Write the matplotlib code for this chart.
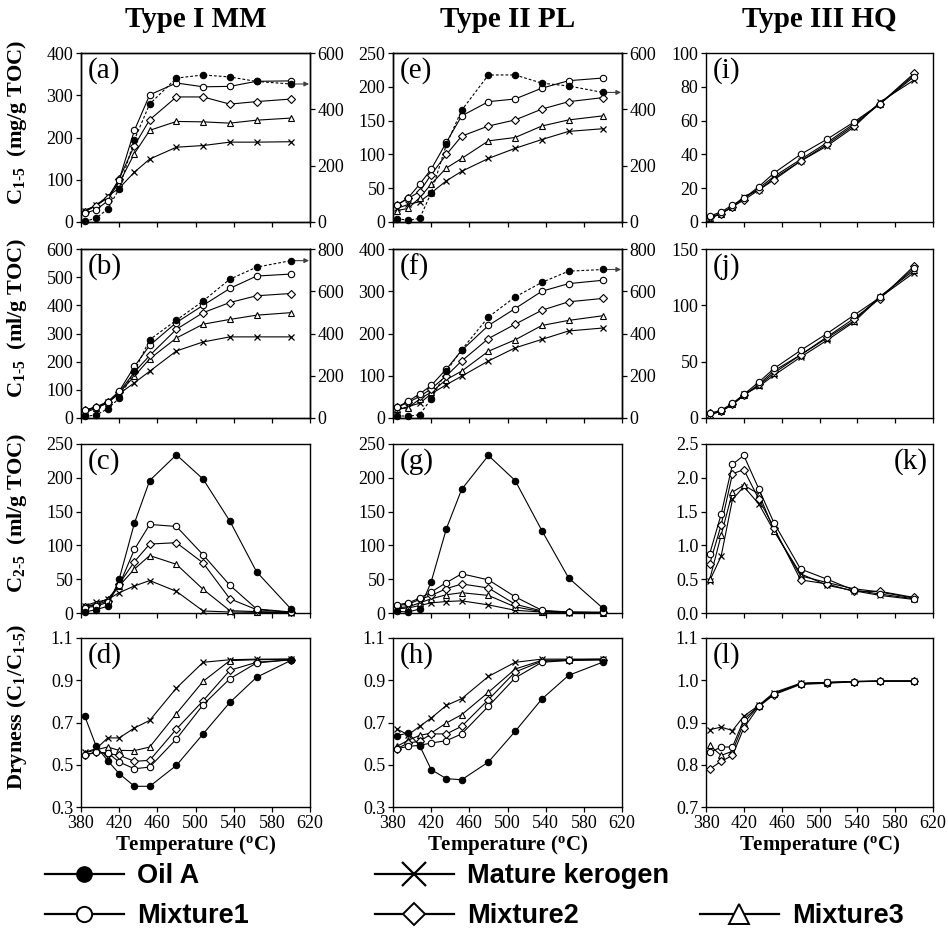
import matplotlib
matplotlib.use("Agg")
import numpy as np
import matplotlib.pyplot as plt
from matplotlib.lines import Line2D
from matplotlib.ticker import FormatStrFormatter

plt.rcParams['font.family'] = ['Liberation Serif', 'DejaVu Serif']
plt.rcParams['mathtext.fontset'] = 'custom'
plt.rcParams['mathtext.rm'] = 'Liberation Serif:bold'
plt.rcParams['mathtext.it'] = 'Liberation Serif:bold'
plt.rcParams['mathtext.bf'] = 'Liberation Serif:bold'

# ---------------- data ----------------
T = [384, 396, 408, 420, 436, 452, 480, 508, 536, 564, 600]
x_ticks = [380, 420, 460, 500, 540, 580, 620]

# Type I MM, C1-5 (mg/g TOC); Oil A on right axis
a_oil = [2, 14, 46, 118, 292, 419, 511, 522, 515, 499, 490]
a_mix1 = [21, 29, 50, 100, 217, 301, 329, 320, 321, 333, 334]
a_mix2 = [24, 39, 57, 102, 181, 242, 296, 296, 279, 285, 291]
a_mix3 = [26, 39, 59, 92, 162, 217, 238, 237, 234, 241, 246]
a_ker = [27, 40, 61, 80, 118, 149, 177, 181, 189, 189, 190]

# Type II PL, C1-5 (mg/g TOC)
e_oil = [12, 6, 13, 103, 276, 397, 522, 522, 493, 483, 460]
e_mix1 = [25, 36, 56, 78, 118, 157, 178, 182, 198, 209, 213]
e_mix2 = [25, 35, 45, 70, 100, 127, 142, 151, 167, 178, 184]
e_mix3 = [17, 20, 36, 56, 80, 94, 120, 125, 142, 151, 157]
e_ker = [20, 26, 30, 43, 61, 75, 94, 109, 122, 134, 138]

# Type III HQ, C1-5 (mg/g TOC)
i_mix1 = [3.5, 6, 10, 14, 21, 29, 40, 49, 59, 70, 86]
i_mix2 = [3, 5, 9, 13, 19, 25, 36, 46, 57, 70, 88]
i_mix3 = [2.5, 5, 9, 14, 20, 27, 37, 47, 58, 70, 87]
i_ker = [2, 5, 9, 15, 19, 26, 36, 45, 56, 71, 84]

# Type I MM, C1-5 (ml/g TOC)
b_oil = [8, 14, 44, 93, 222, 371, 463, 554, 657, 714, 745]
b_mix1 = [28, 40, 58, 95, 183, 258, 339, 400, 460, 504, 511]
b_mix2 = [28, 38, 56, 91, 163, 222, 315, 374, 410, 434, 442]
b_mix3 = [26, 36, 53, 89, 149, 210, 284, 333, 350, 365, 374]
b_ker = [20, 34, 56, 86, 125, 166, 238, 270, 288, 288, 288]

# Type II PL, C1-5 (ml/g TOC)
f_oil = [11, 8, 16, 90, 222, 323, 478, 573, 642, 695, 703]
f_mix1 = [25, 40, 57, 77, 116, 160, 219, 259, 300, 318, 326]
f_mix2 = [25, 37, 51, 69, 100, 135, 188, 222, 255, 275, 283]
f_mix3 = [21, 24, 45, 61, 91, 111, 158, 185, 219, 231, 242]
f_ker = [19, 27, 35, 57, 79, 99, 135, 166, 186, 206, 213]

# Type III HQ, C1-5 (ml/g TOC)
j_mix1 = [4, 7, 13, 21, 32, 44, 60, 75, 91, 107, 133]
j_mix2 = [4, 6, 12, 20, 30, 42, 56, 72, 88, 106, 135]
j_mix3 = [3, 6, 12, 20, 29, 40, 56, 71, 86, 108, 131]
j_ker = [3, 6, 12, 21, 28, 38, 54, 69, 85, 107, 129]

# C2-5 (ml/g TOC)
c_oil = [1.5, 5, 10, 50, 133, 196, 234, 198, 136, 61, 6]
c_mix1 = [8, 10, 16, 41, 94, 131, 128, 86, 41, 6, 1.5]
c_mix2 = [9, 12, 18, 43, 76, 102, 104, 74, 21, 5, 1]
c_mix3 = [10, 13, 21, 40, 65, 85, 72, 35, 3.5, 2, 1]
c_ker = [11, 16, 20, 30, 40, 48, 32, 3, 1.5, 1, 0.5]

g_oil = [2.5, 1.5, 6, 46, 125, 183, 233, 196, 122, 52, 7]
g_mix1 = [12, 15, 22, 31, 45, 58, 49, 24, 4, 1.5, 1]
g_mix2 = [11, 13, 20, 26, 36, 43, 37, 13, 3, 1, 1]
g_mix3 = [8, 9, 15, 21, 27, 30, 26, 9, 2, 1, 0.5]
g_ker = [6, 7.5, 11, 15, 17, 18, 12, 4, 1.5, 0.5, 0.5]

k_mix1 = [0.88, 1.46, 2.20, 2.33, 1.83, 1.33, 0.65, 0.50, 0.34, 0.28, 0.21]
k_mix2 = [0.73, 1.30, 2.06, 2.12, 1.68, 1.26, 0.49, 0.43, 0.32, 0.32, 0.23]
k_mix3 = [0.50, 1.15, 1.79, 1.89, 1.76, 1.22, 0.55, 0.45, 0.36, 0.31, 0.22]
k_ker = [0.48, 0.84, 1.68, 1.87, 1.61, 1.21, 0.58, 0.41, 0.33, 0.26, 0.20]

# Dryness (C1/C1-5)
d_oil = [0.729, 0.587, 0.519, 0.458, 0.398, 0.398, 0.497, 0.646, 0.795, 0.914, 0.994]
d_mix1 = [0.545, 0.559, 0.556, 0.513, 0.481, 0.489, 0.622, 0.784, 0.907, 0.982, 0.997]
d_mix2 = [0.548, 0.559, 0.552, 0.545, 0.516, 0.521, 0.669, 0.803, 0.947, 0.985, 0.997]
d_mix3 = [0.556, 0.571, 0.584, 0.568, 0.567, 0.584, 0.742, 0.895, 0.993, 0.997, 1.0]
d_ker = [0.559, 0.576, 0.627, 0.627, 0.674, 0.710, 0.863, 0.985, 0.997, 1.0, 1.0]

h_oil = [0.638, 0.650, 0.590, 0.477, 0.434, 0.429, 0.513, 0.658, 0.811, 0.923, 0.986]
h_mix1 = [0.576, 0.587, 0.592, 0.603, 0.614, 0.646, 0.777, 0.911, 0.985, 0.994, 0.997]
h_mix2 = [0.576, 0.603, 0.611, 0.646, 0.646, 0.682, 0.808, 0.939, 0.990, 0.994, 0.997]
h_mix3 = [0.587, 0.616, 0.639, 0.650, 0.698, 0.737, 0.843, 0.953, 0.994, 0.997, 1.0]
h_ker = [0.669, 0.642, 0.682, 0.721, 0.781, 0.813, 0.918, 0.985, 1.0, 1.0, 1.0]

l_mix1 = [0.829, 0.842, 0.842, 0.907, 0.940, 0.968, 0.992, 0.995, 0.997, 0.998, 0.998]
l_mix2 = [0.790, 0.808, 0.822, 0.887, 0.938, 0.966, 0.990, 0.993, 0.996, 0.998, 0.998]
l_mix3 = [0.846, 0.822, 0.832, 0.899, 0.940, 0.968, 0.992, 0.994, 0.997, 0.998, 0.998]
l_ker = [0.883, 0.889, 0.881, 0.915, 0.941, 0.971, 0.993, 0.995, 0.997, 0.998, 0.998]

col_titles = ['Type I MM', 'Type II PL', 'Type III HQ']
row_ylabels = [r'C$_{1\text{-}5}$  (mg/g TOC)', r'C$_{1\text{-}5}$  (ml/g TOC)',
               r'C$_{2\text{-}5}$  (ml/g TOC)', r'Dryness (C$_1$/C$_{1\text{-}5}$)']
legend_labels = ['Oil A', 'Mature kerogen', 'Mixture1', 'Mixture2', 'Mixture3']

# ---------------- styles ----------------
STY = {
    'ker': dict(marker='x', color='black', ms=5, mew=0.9),
    'mix3': dict(marker='^', color='black', mfc='white', mec='black', ms=5, mew=0.8),
    'mix2': dict(marker='D', color='black', mfc='white', mec='black', ms=3.8, mew=0.8),
    'mix1': dict(marker='o', color='black', mfc='white', mec='black', ms=4.6, mew=0.8),
    'oil': dict(marker='o', color='black', mfc='black', mec='black', ms=4.6, mew=0.8),
}

W, H = 948, 944
fig = plt.figure(figsize=(W / 100, H / 100), dpi=100)

col_left = [81, 393, 706]
col_w = [229, 229, 227]
row_top = [53, 249, 444, 638]
row_h = 169

panels = [
    (0, 0, '(a)', dict(ker=a_ker, mix3=a_mix3, mix2=a_mix2, mix1=a_mix1), a_oil, (0, 400), 100, (0, 600), 200, '%d', 'left'),
    (0, 1, '(e)', dict(ker=e_ker, mix3=e_mix3, mix2=e_mix2, mix1=e_mix1), e_oil, (0, 250), 50, (0, 600), 200, '%d', 'left'),
    (0, 2, '(i)', dict(ker=i_ker, mix3=i_mix3, mix2=i_mix2, mix1=i_mix1), None, (0, 100), 20, None, None, '%d', 'left'),
    (1, 0, '(b)', dict(ker=b_ker, mix3=b_mix3, mix2=b_mix2, mix1=b_mix1), b_oil, (0, 600), 100, (0, 800), 200, '%d', 'left'),
    (1, 1, '(f)', dict(ker=f_ker, mix3=f_mix3, mix2=f_mix2, mix1=f_mix1), f_oil, (0, 400), 100, (0, 800), 200, '%d', 'left'),
    (1, 2, '(j)', dict(ker=j_ker, mix3=j_mix3, mix2=j_mix2, mix1=j_mix1), None, (0, 150), 50, None, None, '%d', 'left'),
    (2, 0, '(c)', dict(ker=c_ker, mix3=c_mix3, mix2=c_mix2, mix1=c_mix1, oil=c_oil), None, (0, 250), 50, None, None, '%d', 'left'),
    (2, 1, '(g)', dict(ker=g_ker, mix3=g_mix3, mix2=g_mix2, mix1=g_mix1, oil=g_oil), None, (0, 250), 50, None, None, '%d', 'left'),
    (2, 2, '(k)', dict(ker=k_ker, mix3=k_mix3, mix2=k_mix2, mix1=k_mix1), None, (0, 2.5), 0.5, None, None, '%.1f', 'right'),
    (3, 0, '(d)', dict(ker=d_ker, mix3=d_mix3, mix2=d_mix2, mix1=d_mix1, oil=d_oil), None, (0.3, 1.1), 0.2, None, None, '%.1f', 'left'),
    (3, 1, '(h)', dict(ker=h_ker, mix3=h_mix3, mix2=h_mix2, mix1=h_mix1, oil=h_oil), None, (0.3, 1.1), 0.2, None, None, '%.1f', 'left'),
    (3, 2, '(l)', dict(ker=l_ker, mix3=l_mix3, mix2=l_mix2, mix1=l_mix1), None, (0.7, 1.1), 0.1, None, None, '%.1f', 'left'),
]

TICKFS = 13
LW = 0.8

def style_axis(ax):
    for s in ax.spines.values():
        s.set_linewidth(1.0)
    ax.tick_params(direction='out', length=3.5, width=0.9, labelsize=TICKFS, pad=2)

def ticks_for(lim, step):
    n = int(round((lim[1] - lim[0]) / step))
    return [round(lim[0] + i * step, 3) for i in range(n + 1)]

for (r, c, letter, series, oil_r, ylim, ystep, rylim, rystep, fmt, lpos) in panels:
    left = col_left[c] / W
    bottom = 1 - (row_top[r] + row_h) / H
    ax = fig.add_axes([left, bottom, col_w[c] / W, row_h / H])
    style_axis(ax)
    for key in ['ker', 'mix3', 'mix2', 'mix1', 'oil']:
        if key in series:
            ax.plot(T, series[key], lw=LW, clip_on=False, zorder=3, **STY[key])
    ax.set_xlim(380, 620)
    ax.set_ylim(*ylim)
    ax.set_xticks(x_ticks)
    ax.set_yticks(ticks_for(ylim, ystep))
    ax.yaxis.set_major_formatter(FormatStrFormatter(fmt))
    if r < 3:
        ax.tick_params(axis='x', labelbottom=False)
    else:
        ax.set_xlabel('Temperature ($^{\\rm o}$C)', fontsize=15, fontweight='bold', labelpad=1)
    if c == 0:
        ax.set_ylabel(row_ylabels[r], fontsize=16, fontweight='bold')
        ax.yaxis.set_label_coords(-0.225, 0.59)
    if r == 0:
        ax.set_title(col_titles[c], fontsize=21, fontweight='bold', pad=19)
    if lpos == 'left':
        ax.text(0.03, 0.975, letter, transform=ax.transAxes, fontsize=21, va='top', ha='left')
    else:
        ax.text(0.975, 0.975, letter, transform=ax.transAxes, fontsize=21, va='top', ha='right')
    if oil_r is not None:
        ax2 = ax.twinx()
        style_axis(ax2)
        ax2.plot(T, oil_r, lw=LW, ls=(0, (2.5, 1.8)), clip_on=False, zorder=4, **STY['oil'])
        ax2.set_ylim(*rylim)
        ax2.set_yticks(ticks_for(rylim, rystep))
        ax2.yaxis.set_major_formatter(FormatStrFormatter('%d'))
        ax2.annotate('', xy=(619, oil_r[-1]), xytext=(603, oil_r[-1]),
                     arrowprops=dict(arrowstyle='-|>', lw=0.8, color='0.25',
                                     mutation_scale=7, shrinkA=0, shrinkB=0))

# ---------------- legend ----------------
LEG_FONT = dict(family=['Liberation Sans'], weight='bold', size=19.5)
handles = {
    'Oil A': Line2D([], [], color='black', lw=1.6, marker='o', ms=11, mfc='black', mec='black'),
    'Mature kerogen': Line2D([], [], color='black', lw=1.6, marker='x', ms=17, mew=1.6),
    'Mixture1': Line2D([], [], color='black', lw=1.6, marker='o', ms=11, mfc='white', mec='black', mew=1.4),
    'Mixture2': Line2D([], [], color='black', lw=1.6, marker='D', ms=11, mfc='white', mec='black', mew=1.4),
    'Mixture3': Line2D([], [], color='black', lw=1.6, marker='^', ms=15, mfc='white', mec='black', mew=1.4),
}
leg_pos = {
    'Oil A': (45, 876), 'Mature kerogen': (375, 876),
    'Mixture1': (45, 916), 'Mixture2': (375, 916), 'Mixture3': (700, 916),
}
for lab in legend_labels:
    x, y = leg_pos[lab]
    fig.legend(handles=[handles[lab]], labels=[lab], loc='center left',
               bbox_to_anchor=(x / W, 1 - y / H), frameon=False, prop=LEG_FONT,
               handlelength=2.9, handletextpad=0.5, borderpad=0, borderaxespad=0)

fig.savefig('out.png', dpi=100)
